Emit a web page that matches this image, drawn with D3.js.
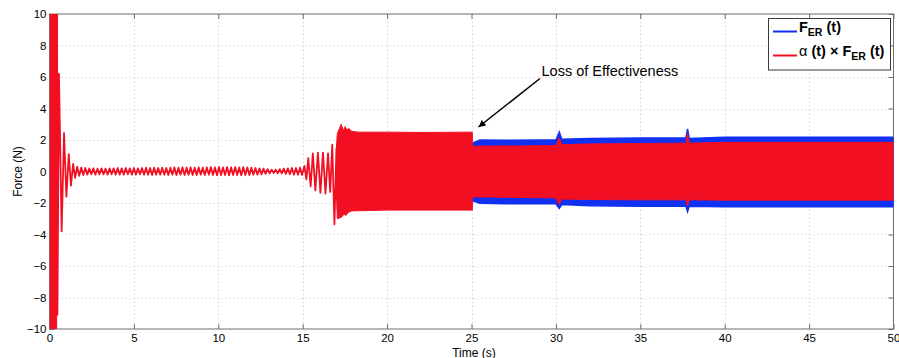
<!DOCTYPE html>
<html><head><meta charset="utf-8">
<script src="https://cdn.jsdelivr.net/npm/d3@7"></script>
<style>
html,body{margin:0;padding:0;background:#fff;}
svg{display:block;font-family:"Liberation Sans",Arial,Helvetica,sans-serif;}
</style></head>
<body><svg id="c" width="899" height="358"></svg>
<script>
// ---------- data ----------
const xTicks = [0,5,10,15,20,25,30,35,40,45,50];
const yTicks = [-10,-8,-6,-4,-2,0,2,4,6,8,10];
const xLabel = "Time (s)";
const yLabel = "Force (N)";
const annotationText = "Loss of Effectiveness";

// initial saturated burst (t, upper, lower) - exceeds axis limits
const burstT = [0, 0.45];
const burstHi = [15, 15];
const burstLo = [-15, -15];

// decaying transient turning points (t, value)
const transientPeaks = [
  [0.45, 10], [0.47, -9.1], [0.56, 6.2], [0.72, -3.8], [0.86, 2.45], [1.0, -1.6],
  [1.14, 1.1], [1.27, -0.9], [1.4, 0.48], [1.52, -0.4], [1.64, 0.3], [1.76, -0.28]
];
// low-level oscillation turning points, every 0.12 s starting at t = 1.88
const quietStart = 1.88, quietStep = 0.12;
const quietPeaks = [
  0.25,-0.22,0.22,-0.2,0.2,-0.18,0.2,-0.2,0.18,-0.18,
  0.2,-0.18,0.18,-0.2,0.2,-0.18,0.2,-0.2,0.22,-0.2,
  0.2,-0.2,0.22,-0.18,0.2,-0.2,0.22,-0.2,0.2,-0.18,
  0.22,-0.2,0.24,-0.2,0.22,-0.22,0.24,-0.2,0.22,-0.2,
  0.24,-0.2,0.22,-0.22,0.24,-0.2,0.26,-0.22,0.24,-0.2,
  0.26,-0.22,0.24,-0.2,0.26,-0.22,0.24,-0.22,0.26,-0.2,
  0.24,-0.22,0.26,-0.2,0.28,-0.22,0.26,-0.24,0.28,-0.22,
  0.26,-0.22,0.28,-0.24,0.26,-0.22,0.28,-0.22,0.26,-0.24,
  0.28,-0.22,0.26,-0.22,0.24,-0.2,0.22,-0.2,0.2,-0.18,
  0.18,-0.15,0.15,-0.12,0.12,-0.1,0.12,-0.12,0.15,-0.12,
  0.18,-0.15,0.2,-0.18,0.22,-0.2,0.22,-0.2,0.24,-0.22
];
// growing oscillation before the dense regime
const growthPeaks = [
  [15.1, 0.35], [15.22, -0.5], [15.33, 0.85], [15.47, -0.95], [15.6, 1.15], [15.75, -1.2],
  [15.9, 1.2], [16.05, -1.35], [16.2, 1.2], [16.35, -1.4], [16.5, 1.15], [16.63, -1.3],
  [16.75, 1.7], [16.88, -3.35], [17.0, 1.5]
];

// dense oscillation envelope of alpha(t) x F_ER(t)
const redUpper = [
  [17.0,1.5],[17.05,2.4],[17.28,3.0],[17.4,2.6],[17.52,2.85],[17.62,2.6],[17.72,2.75],[17.9,2.55],
  [18.3,2.5],[20,2.5],[22,2.48],[25.05,2.5],
  [25.06,1.6],[26,1.62],[28,1.62],[30.0,1.65],[30.2,2.15],[30.35,1.7],[32,1.75],[35,1.78],
  [37.7,1.8],[37.8,2.45],[37.9,1.8],[40,1.85],[45,1.85],[50,1.85]
];
const redLower = [
  [17.0,-1.5],[17.05,-3.0],[17.3,-2.9],[17.45,-2.7],[17.55,-2.8],[17.7,-2.6],[17.9,-2.5],
  [20,-2.45],[25.05,-2.45],
  [25.06,-1.62],[26,-1.62],[28,-1.65],[30.0,-1.68],[30.2,-2.1],[30.35,-1.75],[32,-1.78],[35,-1.8],
  [37.7,-1.8],[37.8,-2.2],[37.9,-1.8],[40,-1.82],[45,-1.82],[50,-1.82]
];
// dense oscillation envelope of F_ER(t) (differs from red after 25 s)
const blueUpper = [
  [25.05,1.8],[25.5,2.0],[27,1.98],[29,2.0],[30.0,2.0],[30.2,2.5],[30.35,2.05],[32,2.1],[35,2.12],
  [37.7,2.12],[37.8,2.7],[37.9,2.1],[40,2.18],[45,2.18],[50,2.18]
];
const blueLower = [
  [25.05,-1.85],[25.5,-2.02],[27,-2.05],[30.0,-2.05],[30.2,-2.35],[30.35,-2.1],[32,-2.18],[35,-2.2],
  [37.7,-2.2],[37.8,-2.55],[37.9,-2.2],[40,-2.24],[45,-2.24],[50,-2.24]
];

// ---------- drawing ----------
const RED = "#f20f22", BLUE = "#1030f2";
const svg = d3.select("#c");
const L = 49.5, R = 893.5, T = 14, B = 329;
const x = d3.scaleLinear().domain([0,50]).range([L,R]);
const y = d3.scaleLinear().domain([-10,10]).range([B,T]);

// grid
const grid = svg.append("g").attr("stroke","#c4c4c4").attr("stroke-width",1).attr("stroke-dasharray","1,3");
grid.selectAll(".gx").data(xTicks.filter(d=>d>0&&d<50)).join("line")
  .attr("x1",d=>Math.round(x(d))+0.5).attr("x2",d=>Math.round(x(d))+0.5).attr("y1",T).attr("y2",B);
grid.selectAll(".gy").data(yTicks.filter(d=>d>-10&&d<10)).join("line")
  .attr("y1",d=>Math.round(y(d))+0.5).attr("y2",d=>Math.round(y(d))+0.5).attr("x1",L).attr("x2",R);

// axes
const fmtY = d => d < 0 ? "\u2212" + Math.abs(d) : String(d);
function styleAxis(g){
  g.select(".domain").remove();
  g.selectAll(".tick line").attr("stroke","#6e6e6e");
  g.selectAll("text").attr("fill","#000").style("font-size","11.5px");
}
svg.append("g").attr("transform",`translate(0,${B})`)
  .call(d3.axisBottom(x).tickValues(xTicks).tickSizeInner(-5).tickSizeOuter(0).tickPadding(5)).call(styleAxis);
svg.append("g").attr("transform",`translate(0,${T})`)
  .call(d3.axisTop(x).tickValues(xTicks).tickSizeInner(-5).tickSizeOuter(0).tickFormat("")).call(styleAxis);
svg.append("g").attr("transform",`translate(${L},0)`)
  .call(d3.axisLeft(y).tickValues(yTicks).tickSizeInner(-5).tickSizeOuter(0).tickPadding(3).tickFormat(fmtY)).call(styleAxis);
svg.append("g").attr("transform",`translate(${R},0)`)
  .call(d3.axisRight(y).tickValues(yTicks).tickSizeInner(-5).tickSizeOuter(0).tickFormat("")).call(styleAxis);
svg.append("rect").attr("x",L).attr("y",T).attr("width",R-L).attr("height",B-T)
  .attr("fill","none").attr("stroke","#6e6e6e").attr("stroke-width",1);

// axis titles
svg.append("text").attr("x",474).attr("y",356.5).attr("text-anchor","middle")
  .style("font-size","12px").text(xLabel);
svg.append("text").attr("transform",`translate(22,${(T+B)/2}) rotate(-90)`).attr("text-anchor","middle")
  .style("font-size","12px").text(yLabel);

// data
svg.append("clipPath").attr("id","clip").append("rect").attr("x",L).attr("y",T).attr("width",R-L).attr("height",B-T);
const plot = svg.append("g").attr("clip-path","url(#clip)");

const area = d3.area().x(d=>x(d[0])).y0(d=>y(d[2])).y1(d=>y(d[1]));
const zipEnv = (up, lo) => {
  const ts = Array.from(new Set(up.map(d=>d[0]).concat(lo.map(d=>d[0])))).sort((a,b)=>a-b);
  const iu = d3.scaleLinear().domain(up.map(d=>d[0])).range(up.map(d=>d[1]));
  const il = d3.scaleLinear().domain(lo.map(d=>d[0])).range(lo.map(d=>d[1]));
  return ts.map(t=>[t, iu(t), il(t)]);
};

// blue F_ER(t) dense part
plot.append("path").datum(zipEnv(blueUpper, blueLower)).attr("d",area)
  .attr("fill",BLUE).attr("stroke",BLUE).attr("stroke-width",1.5);

// red burst
plot.append("path").datum(burstT.map((t,i)=>[t,burstHi[i],burstLo[i]])).attr("d",area).attr("fill",RED);
// red sparse line
const sparse = transientPeaks
  .concat(quietPeaks.map((v,i)=>[quietStart + i*quietStep, v]))
  .concat(growthPeaks);
plot.append("path").datum(sparse).attr("d",d3.line().x(d=>x(d[0])).y(d=>y(d[1])))
  .attr("fill","none").attr("stroke",RED).attr("stroke-width",1.8).attr("stroke-linejoin","round");
// red dense part
plot.append("path").datum(zipEnv(redUpper, redLower)).attr("d",area)
  .attr("fill",RED).attr("stroke",RED).attr("stroke-width",1);

// annotation arrow
svg.append("defs").append("marker").attr("id","ah").attr("viewBox","0 0 10 10")
  .attr("refX",10).attr("refY",5).attr("markerWidth",10).attr("markerHeight",7)
  .attr("markerUnits","userSpaceOnUse").attr("orient","auto")
  .append("path").attr("d","M0,0 L10,5 L0,10 Z").attr("fill","#000");
svg.append("line").attr("x1",540).attr("y1",78.5).attr("x2",478.5).attr("y2",127)
  .attr("stroke","#000").attr("stroke-width",1.5).attr("marker-end","url(#ah)");
svg.append("text").attr("x",541.5).attr("y",76).style("font-size","14.5px").text(annotationText);

// legend
const lg = svg.append("g");
lg.append("rect").attr("x",768.5).attr("y",18.5).attr("width",122).attr("height",51.5)
  .attr("fill","#fff").attr("stroke","#3a3a3a").attr("stroke-width",1);
lg.append("line").attr("x1",773).attr("x2",797).attr("y1",31.5).attr("y2",31.5).attr("stroke",BLUE).attr("stroke-width",2);
lg.append("line").attr("x1",773).attr("x2",797).attr("y1",55.5).attr("y2",55.5).attr("stroke",RED).attr("stroke-width",2);
const t1 = lg.append("text").attr("x",799).attr("y",32).style("font-size","14.5px").style("font-weight","bold");
t1.append("tspan").text("F");
t1.append("tspan").attr("dy",4).style("font-size","10.5px").text("ER");
t1.append("tspan").attr("dy",-4).text(" (t)");
const t2 = lg.append("text").attr("x",799).attr("y",55.5).style("font-size","14.5px").style("font-weight","bold");
t2.append("tspan").style("font-weight","normal").text("\u03b1");
t2.append("tspan").text(" (t) \u00d7 F");
t2.append("tspan").attr("dy",4).style("font-size","10.5px").text("ER");
t2.append("tspan").attr("dy",-4).text(" (t)");
</script>
</body></html>
